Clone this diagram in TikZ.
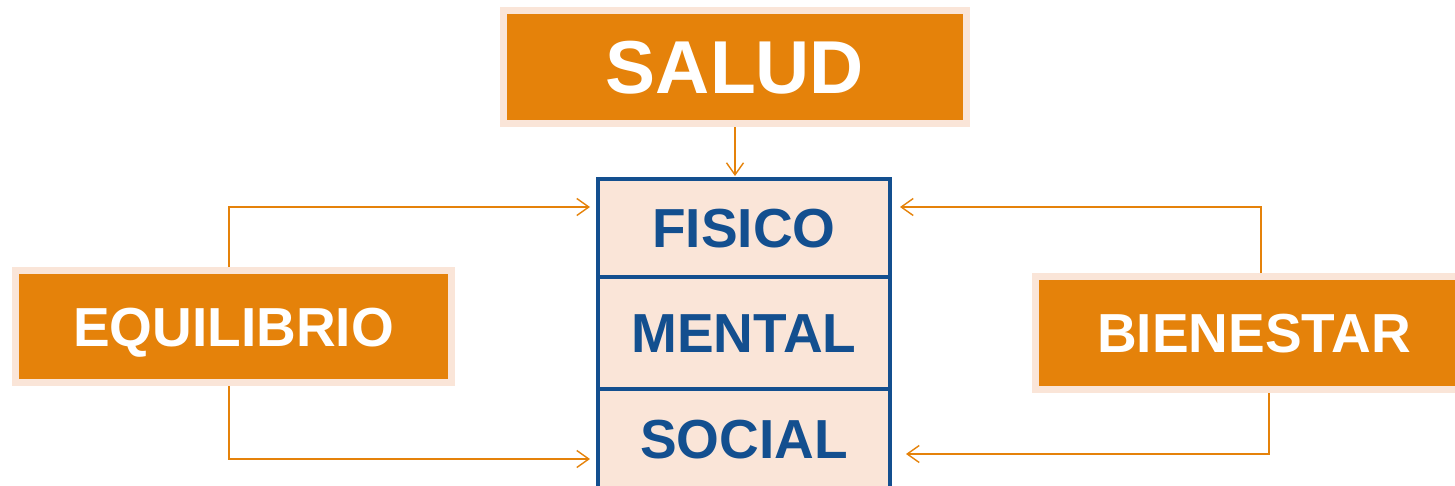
\documentclass[tikz,border=0pt]{standalone}
\usepackage{fontspec}
\setmainfont{Liberation Sans}
\usetikzlibrary{arrows.meta}
\definecolor{orng}{RGB}{229,130,10}
\definecolor{peach}{RGB}{250,229,216}
\definecolor{navy}{RGB}{19,79,143}
\begin{document}
\begin{tikzpicture}[x=1pt,y=-1pt,
  obox/.style={draw=peach,fill=orng,line width=7pt,text=white,
    font=\fontsize{55}{60}\selectfont\bfseries,inner sep=0pt,
    text height=39.4pt,text depth=0pt,
    minimum width=436pt,minimum height=112pt},
  cell/.style={draw=navy,fill=peach,line width=4pt,text=navy,
    font=\fontsize{55}{60}\selectfont\bfseries,inner sep=0pt,
    text height=39.4pt,text depth=0pt,
    minimum width=292pt},
  conn/.style={draw=orng,line width=1.4pt,
    -{Straight Barb[length=12pt,width=17pt]}}]
\useasboundingbox (0,0) rectangle (1455,485);
\clip (0,0) rectangle (1455,485);
\node[obox,minimum width=463pt,minimum height=113pt,text height=53.7pt,font=\fontsize{75}{80}\selectfont\bfseries] (salud) at (735,67) {SALUD};
\node[obox] (equi) at (233.5,326.5) {EQUILIBRIO};
\node[obox,minimum width=437pt,minimum height=113pt] (bien) at (1254,333) {BIENESTAR};
\node[cell,minimum height=98pt] (fisico) at (744,228) {FISICO};
\node[cell,minimum height=112pt] (mental) at (744,333) {MENTAL};
\node[cell,minimum height=100pt] (social) at (744,439) {SOCIAL};
\draw[conn,shorten >=1pt] (salud.south) -- (salud.south |- fisico.north);
\draw[conn,shorten >=6pt] ([xshift=-4.5pt]equi.north) |- ([yshift=21pt]fisico.west);
\draw[conn,shorten >=6pt] ([xshift=-4.5pt]equi.south) |- ([yshift=-20pt]social.west);
\draw[conn,shorten >=8pt] ([xshift=7pt]bien.north) |- ([yshift=21pt]fisico.east);
\draw[conn,shorten >=14pt] ([xshift=15pt]bien.south) |- ([yshift=-15pt]social.east);
\end{tikzpicture}
\end{document}
